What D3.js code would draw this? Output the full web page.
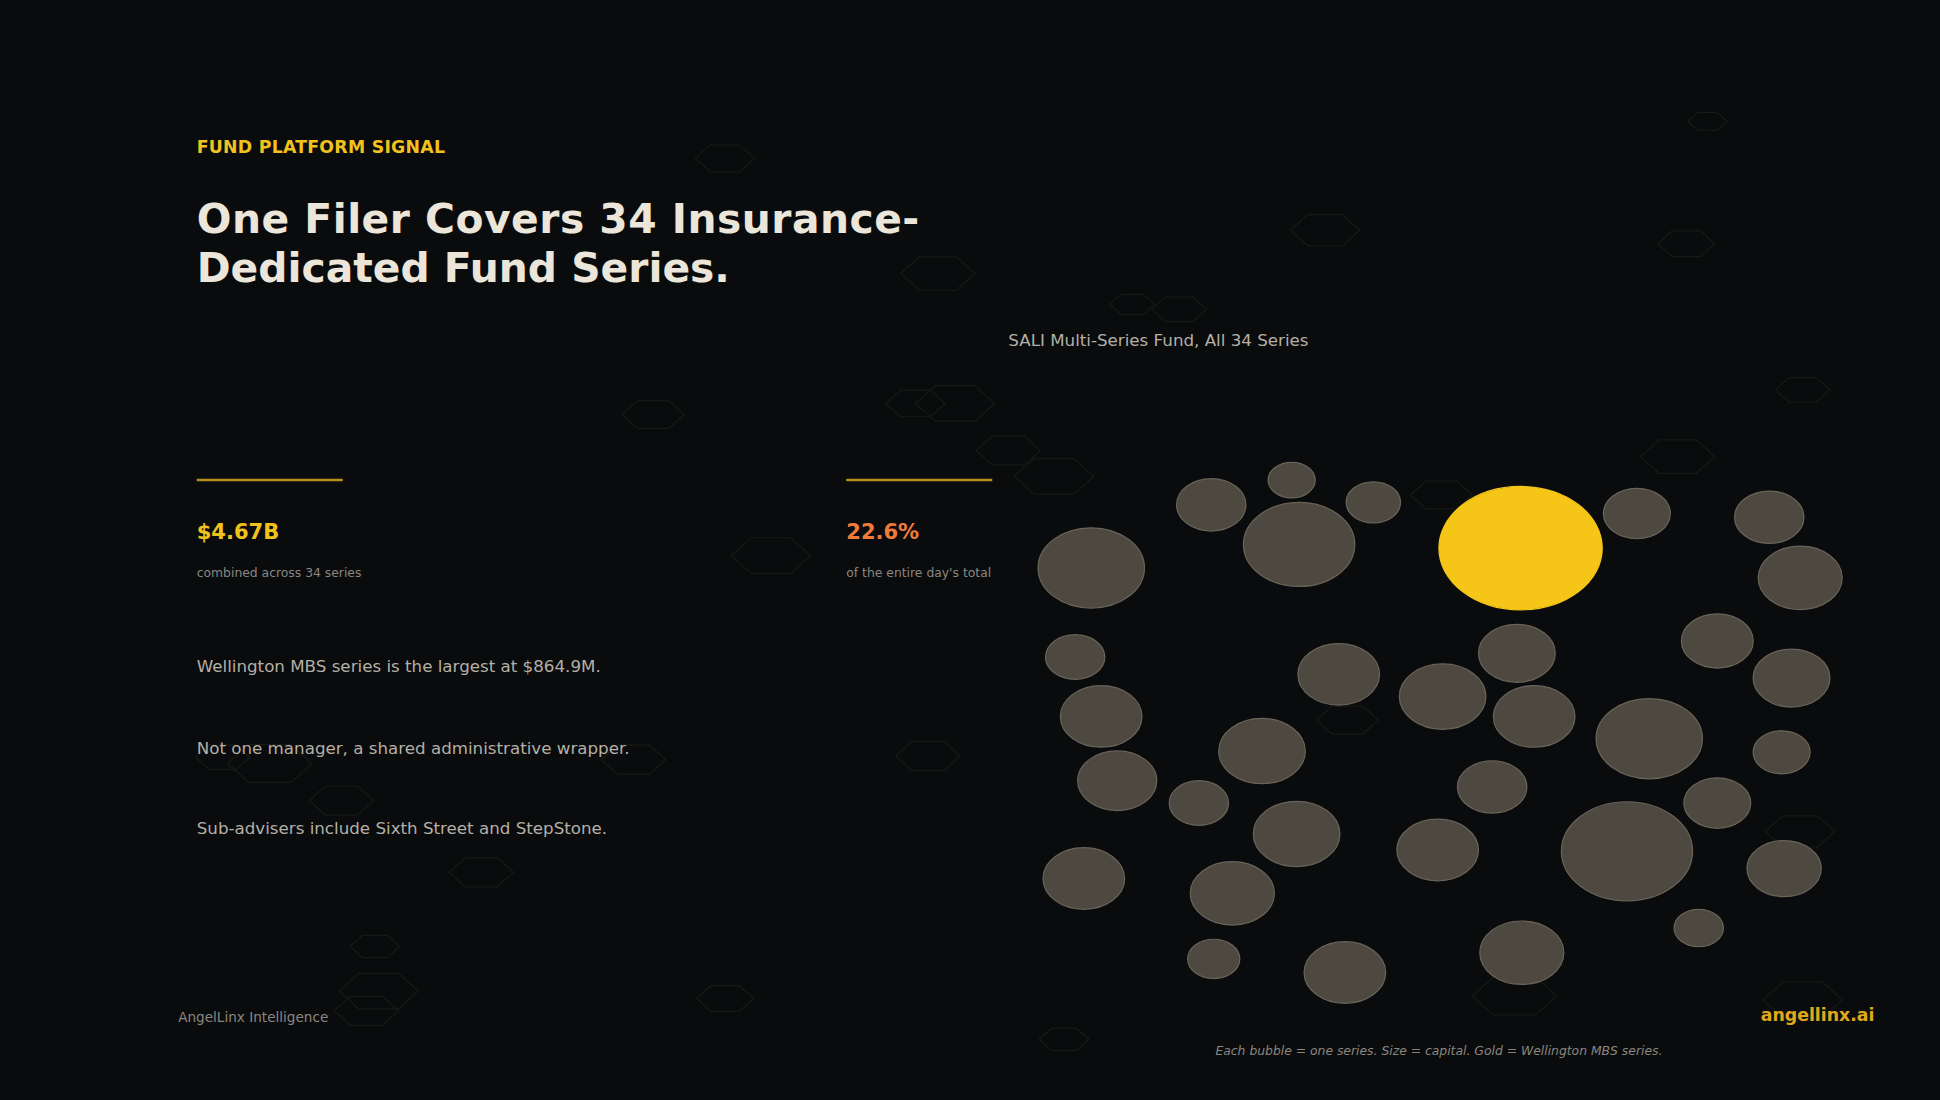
<!DOCTYPE html>
<html><head><meta charset="utf-8">
<script src="https://cdn.jsdelivr.net/npm/d3@7"></script>
<style>html,body{margin:0;background:#0a0b0d;overflow:hidden}svg{display:block}</style>
</head><body><svg id="c" width="1940" height="1100" viewBox="0 0 1568 889"></svg>
<script>
// series layout positions (chart units) and capital ($M)
const seriesX = [67,164,229,235,295,414,508,615,640,54,75,267,351,411,425,573,633,518,205,88,154,233,391,625,573,347,500,61,181,627,166,272,415,558];
const seriesY = [89,38,18,70,36,73,45,48,97,161,209,175,193,158,209,148,178,227,237,261,279,304,266,238,279,317,318,340,352,332,405,416,400,380];
const capital = [367,156,72,402,96,864.9,145,156,229,114,216,216,243,191,216,167,191,367,243,203,114,243,156,105,145,216,558,216,229,179,88,216,229,79];
const goldIndex = 5;
const hexes = [[586,128,24],[758,221,30],[1071,186,28],[528,335,25],[772,326,32],[740,326,24],[815,364,26],[852,385,32],[623,449,32],[915,246,18],[953,250,22],[1165,400,25],[1356,369,30],[1363,197,23],[1457,315,22],[1380,98,16],[750,611,26],[512,614,26],[218,617,34],[180,612,22],[276,647,26],[389,705,26],[303,765,20],[306,801,32],[296,817,26],[586,807,23],[860,840,20],[1224,805,34],[1455,672,28],[1457,808,32],[1089,582,25]];

const svg = d3.select('#c');
svg.append('rect').attr('width',1568).attr('height',889).attr('fill','#0a0b0d');
const hexPath = (cx,cy,r)=>{const h=r*0.45;return `M${cx-r},${cy}L${cx-r/2},${cy-h}L${cx+r/2},${cy-h}L${cx+r},${cy}L${cx+r/2},${cy+h}L${cx-r/2},${cy+h}Z`;};
svg.selectAll('path.hex').data(hexes).join('path').attr('d',d=>hexPath(...d)).attr('fill','none').attr('stroke','#161b14').attr('stroke-width',1);

const F='DejaVu Sans, sans-serif';
const t=(x,y,s,c,sz,w)=>svg.append('text').attr('x',x).attr('y',y).text(s).attr('fill',c).attr('font-size',sz).attr('font-family',F).attr('font-weight',w||'normal');
t(159,124,'FUND PLATFORM SIGNAL','#f2c21c',14,'bold').attr('letter-spacing',0.2);
t(159,188,'One Filer Covers 34 Insurance-','#ece6da',33,'bold').attr('textLength',584);
t(159,228,'Dedicated Fund Series.','#ece6da',33,'bold');
svg.append('line').attr('x1',159).attr('x2',277).attr('y1',388).attr('y2',388).attr('stroke','#b8901c').attr('stroke-width',2);
svg.append('line').attr('x1',684).attr('x2',802).attr('y1',388).attr('y2',388).attr('stroke','#b8901c').attr('stroke-width',2);
t(159,436,'$4.67B','#f2c21c',17,'bold');
t(159,466,'combined across 34 series','#8a8780',10);
t(684,436,'22.6%','#f07a3a',17,'bold');
t(684,466,"of the entire day's total",'#8a8780',10);
t(159,543,'Wellington MBS series is the largest at $864.9M.','#b5b0a6',13.5);
t(159,609,'Not one manager, a shared administrative wrapper.','#b5b0a6',13.5);
t(159,674,'Sub-advisers include Sixth Street and StepStone.','#b5b0a6',13.5);
t(144,826,'AngelLinx Intelligence','#8a8780',11);
t(1515,825,'angellinx.ai','#e0a81a',14,'bold').attr('text-anchor','end');
t(815,280,'SALI Multi-Series Fund, All 34 Series','#b5b0a6',13.5);
t(1163,853,'Each bubble = one series. Size = capital. Gold = Wellington MBS series.','#8a8780',10).attr('text-anchor','middle').attr('font-style','italic');

const x = d3.scaleLinear().domain([0,700]).range([815,1515]);
const y = d3.scaleLinear().domain([0,420]).range([370,790]);
const r = d3.scaleSqrt().domain([0,864.9]).range([0,66]);
const data = capital.map((v,i)=>({v,i,x:seriesX[i],y:seriesY[i]}));
svg.selectAll('ellipse.b').data(data).join('ellipse')
  .attr('cx',d=>x(d.x)).attr('cy',d=>y(d.y))
  .attr('rx',d=>r(d.v)).attr('ry',d=>r(d.v)*0.755)
  .attr('fill',d=>d.i===goldIndex?'#f5c518':'#4d4840')
  .attr('stroke',d=>d.i===goldIndex?'#f5c518':'#6a6358').attr('stroke-width',1);
</script></body></html>
